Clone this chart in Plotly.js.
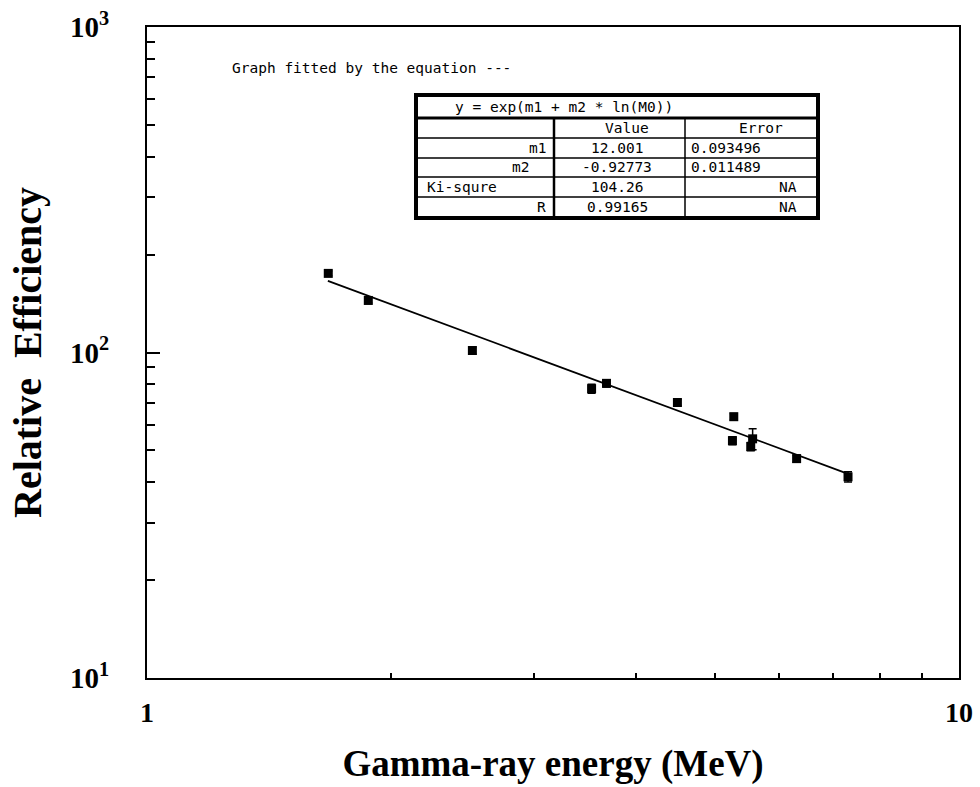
<!DOCTYPE html>
<html>
<head>
<meta charset="utf-8">
<script src="https://cdn.plot.ly/plotly-3.0.1.min.js"></script>
<style>html,body{margin:0;padding:0;background:#fff;}#chart{width:980px;height:787px;}</style>
</head>
<body>
<div id="chart"></div>
<script>
// Measured points (MeV, relative efficiency)
const energy = [1.672, 1.873, 2.516, 3.528, 3.68, 4.50, 5.28, 5.26, 5.57, 5.54, 6.31, 7.30];
const efficiency = [175, 144.5, 101.4, 77.4, 80.4, 70.2, 63.5, 53.6, 54.3, 51.4, 47.2, 41.5];
const effError = [3, 2.5, 2.5, 2.5, 2, 1.5, 1.5, 1.5, 4, 1.5, 1.2, 1.5];
// Fitted line end points
const fitX = [1.67, 7.30];
const fitY = [166, 42.4];
// Axis ticks
const yTickVals = [10, 100, 1000];
const yTickText = ['10<sup>1</sup>', '10<sup>2</sup>', '10<sup>3</sup>'];
const xTickVals = [1, 10];
const xTickText = ['1', '10'];
const xMinor = [2, 3, 4, 5, 6, 7, 8, 9];
const yMinor = [20, 30, 40, 50, 60, 70, 80, 90, 200, 300, 400, 500, 600, 700, 800, 900];
// Fit table contents
const tableTitle = 'y = exp(m1 + m2 * ln(M0))';
const tableHeader = ['Value', 'Error'];
const rowNames = ['m1', 'm2', 'Ki-squre', 'R'];
const rowValues = ['12.001', '-0.92773', '104.26', '0.99165'];
const rowErrors = ['0.093496', '0.011489', 'NA', 'NA'];
const note = 'Graph fitted by the equation ---';

// pixel -> paper helpers (plot area 147..959 x 27..678)
const L = 147, R = 959, T = 27, B = 678;
const px = x => (x - L) / (R - L);
const py = y => (B - y) / (B - T);

const mono = {family: 'DejaVu Sans Mono', size: 14.5, color: '#000'};
const serifB = {family: 'Liberation Serif', color: '#000', weight: 'bold'};

const shapes = [];
function line(x0, y0, x1, y1, w) {
  shapes.push({type: 'line', xref: 'paper', yref: 'paper', x0: px(x0), y0: py(y0), x1: px(x1), y1: py(y1), line: {color: '#000', width: w}});
}
// table frame
shapes.push({type: 'rect', xref: 'paper', yref: 'paper', x0: px(416), y0: py(95), x1: px(818), y1: py(218), line: {color: '#000', width: 4}, fillcolor: 'rgba(255,255,255,0)'});
line(416, 118, 818, 118, 3);
const rowLines = [138, 158, 177, 197];
rowLines.forEach(y => line(416, y, 818, y, 1.5));
line(554, 118, 554, 218, 2.5);
line(685, 118, 685, 218, 1.5);

const annotations = [];
function txt(t, x, y, anchor) {
  annotations.push({text: t, xref: 'paper', yref: 'paper', x: px(x), y: py(y), xanchor: anchor, yanchor: 'middle', showarrow: false, font: mono});
}
txt(note, 230, 68, 'left');
txt(tableTitle, 453, 107, 'left');
const rowY = [128, 148, 167, 187, 207];
txt(tableHeader[0], 627, rowY[0], 'center');
txt(tableHeader[1], 761, rowY[0], 'center');
const nameX = [548, 531, 425, 548];
const nameAnchor = ['right', 'right', 'left', 'right'];
rowNames.forEach((n, i) => txt(n, nameX[i], rowY[i + 1], nameAnchor[i]));
rowValues.forEach((v, i) => txt(v, 617, rowY[i + 1], 'center'));
rowErrors.forEach((v, i) => {
  if (v === 'NA') txt(v, 799, rowY[i + 1], 'right');
  else txt(v, 689, rowY[i + 1], 'left');
});

const traces = [
  {x: fitX, y: fitY, mode: 'lines', type: 'scatter', line: {color: '#000', width: 1.8}, hoverinfo: 'skip'},
  {x: energy, y: efficiency, mode: 'markers', type: 'scatter',
   marker: {symbol: 'square', size: 9, color: '#000'},
   error_y: {type: 'data', array: effError, visible: true, color: '#000', thickness: 1.5, width: 4}}
];

const layout = {
  width: 980, height: 787,
  margin: {l: L, r: 980 - R, t: T, b: 787 - B},
  paper_bgcolor: '#fff', plot_bgcolor: '#fff',
  showlegend: false,
  xaxis: {
    type: 'log', range: [0, 1],
    showline: true, linecolor: '#000', linewidth: 2, mirror: true,
    showgrid: false, zeroline: false,
    tickmode: 'array', tickvals: xTickVals, ticktext: xTickText,
    ticks: 'inside', ticklen: 6, tickwidth: 2, tickcolor: '#000',
    tickfont: Object.assign({size: 28}, serifB), ticklabelstandoff: 8,
    minor: {tickmode: 'array', tickvals: xMinor, ticks: 'inside', ticklen: 5, tickwidth: 2, tickcolor: '#000', showgrid: false},
    title: {text: 'Gamma-ray energy (MeV)', font: Object.assign({size: 37}, serifB), standoff: 24}
  },
  yaxis: {
    type: 'log', range: [1, 3],
    showline: true, linecolor: '#000', linewidth: 2, mirror: true,
    showgrid: false, zeroline: false,
    tickmode: 'array', tickvals: yTickVals, ticktext: yTickText,
    ticks: 'inside', ticklen: 13, tickwidth: 2, tickcolor: '#000',
    tickfont: Object.assign({size: 29}, serifB), ticklabelstandoff: 30,
    minor: {tickmode: 'array', tickvals: yMinor, ticks: 'inside', ticklen: 8, tickwidth: 2, tickcolor: '#000', showgrid: false},
    title: {text: 'Relative  Efficiency', font: Object.assign({size: 40}, serifB), standoff: 16}
  },
  shapes: shapes,
  annotations: annotations
};

Plotly.newPlot('chart', traces, layout, {displayModeBar: false, staticPlot: true});
</script>
</body>
</html>
